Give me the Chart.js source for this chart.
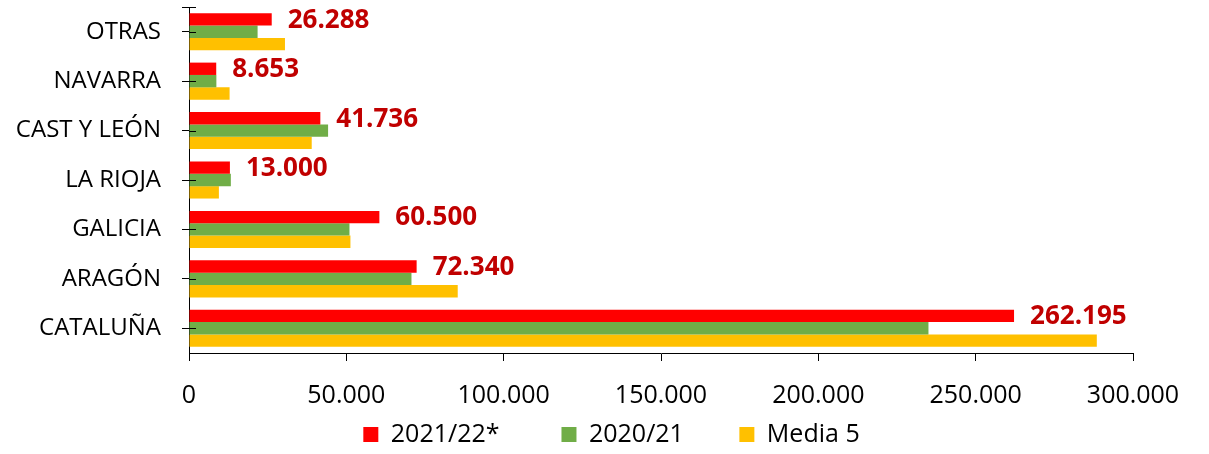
<!DOCTYPE html>
<html>
<head>
<meta charset="utf-8">
<script src="https://cdn.jsdelivr.net/npm/chart.js@4/dist/chart.umd.min.js"></script>
<style>
  body { margin: 0; background: #fff; }
  #wrap { width: 1209px; height: 454px; }
</style>
</head>
<body>
<div id="wrap"><canvas id="chart"></canvas></div>
<script>
let regiones = ["OTRAS", "NAVARRA", "CAST Y LEÓN", "LA RIOJA", "GALICIA", "ARAGÓN", "CATALUÑA"];
let campana_2122 = [26288, 8653, 41736, 13000, 60500, 72340, 262195];
let campana_2021 = [21800, 8700, 44200, 13300, 51000, 70700, 235000];
let media_5 = [30500, 12900, 39000, 9500, 51300, 85400, 288500];
let x_ticks = [0, 50000, 100000, 150000, 200000, 250000, 300000];

function fmt(v) {
    return String(v).replace(/\B(?=(\d{3})+(?!\d))/g, ".");
}

// etiquetas rojas al final de las barras 2021/22*
let etiquetas = {
    id: "etiquetas",
    afterDatasetsDraw(chart) {
        let ctx = chart.ctx;
        let meta = chart.getDatasetMeta(0);
        ctx.save();
        ctx.font = "bold 26px 'Open Sans'";
        ctx.fillStyle = "#C00000";
        ctx.textBaseline = "middle";
        ctx.textAlign = "left";
        meta.data.forEach(function (bar, i) {
            ctx.fillText(fmt(campana_2122[i]), bar.x + 16, bar.y + 1);
        });
        ctx.restore();
    }
};

// marcas del eje Y que cruzan la línea
let marcas = {
    id: "marcas",
    afterLayout(chart) {
        // centrar la leyenda como en el original
        let lg = chart.legend;
        lg.left += 45; lg.right += 45;
        lg.top += 3; lg.bottom += 3;
    },
    afterDraw(chart) {
        let ctx = chart.ctx;
        let y = chart.scales.y;
        let left = chart.chartArea.left;
        ctx.save();
        ctx.strokeStyle = "#000";
        ctx.lineWidth = 1;
        ctx.beginPath();
        for (let i = 0; i < regiones.length; i++) {
            let py = Math.round(y.getPixelForTick(i)) + 0.5;
            ctx.moveTo(left, py);
            ctx.lineTo(left + 7, py);
        }
        let top = Math.round(chart.chartArea.top) + 0.5;
        ctx.moveTo(left - 7, top);
        ctx.lineTo(left + 7, top);
        ctx.stroke();
        ctx.restore();
    }
};

let ctx = document.getElementById("chart").getContext("2d");

let chart = new Chart(ctx, {
    type: "bar",
    data: {
        labels: regiones,
        datasets: [{
            label: "2021/22*        ",
            data: campana_2122,
            backgroundColor: "#FF0000"
        }, {
            label: "2020/21       ",
            data: campana_2021,
            backgroundColor: "#70AD47"
        }, {
            label: "Media 5",
            data: media_5,
            backgroundColor: "#FFC000"
        }]
    },
    options: {
        indexAxis: "y",
        responsive: true,
        maintainAspectRatio: false,
        animation: false,
        datasets: {
            bar: { categoryPercentage: 0.75, barPercentage: 1.0 }
        },
        layout: {
            padding: { left: 0, right: 76, top: 7, bottom: 0 }
        },
        scales: {
            x: {
                min: 0,
                max: 300000,
                afterBuildTicks: function (s) {
                    s.ticks = x_ticks.map(v => ({ value: v }));
                },
                afterFit: function (s) {
                    s.height = 56;
                    s.paddingLeft = 0;
                    s.paddingRight = 0;
                },
                ticks: {
                    callback: v => fmt(v),
                    font: { family: "'Open Sans'", size: 25 },
                    color: "#000",
                    padding: 20,
                    maxRotation: 0
                },
                grid: { drawOnChartArea: false, tickLength: 8, color: "#000" },
                border: { color: "#000" }
            },
            y: {
                afterFit: function (s) {
                    s.width = 189;
                    s.paddingTop = 0;
                    s.paddingBottom = 0;
                },
                ticks: {
                    font: { family: "'Open Sans'", size: 24 },
                    color: "#000",
                    padding: 21
                },
                grid: { drawOnChartArea: false, offset: false, tickLength: 7, color: "#000" },
                border: { color: "#000" }
            }
        },
        plugins: {
            legend: {
                position: "bottom",
                labels: {
                    boxWidth: 15,
                    boxHeight: 15,
                    padding: 10,
                    color: "#000",
                    font: { family: "'Open Sans'", size: 25 }
                }
            },
            tooltip: { enabled: false }
        }
    },
    plugins: [etiquetas, marcas]
});
</script>
</body>
</html>
